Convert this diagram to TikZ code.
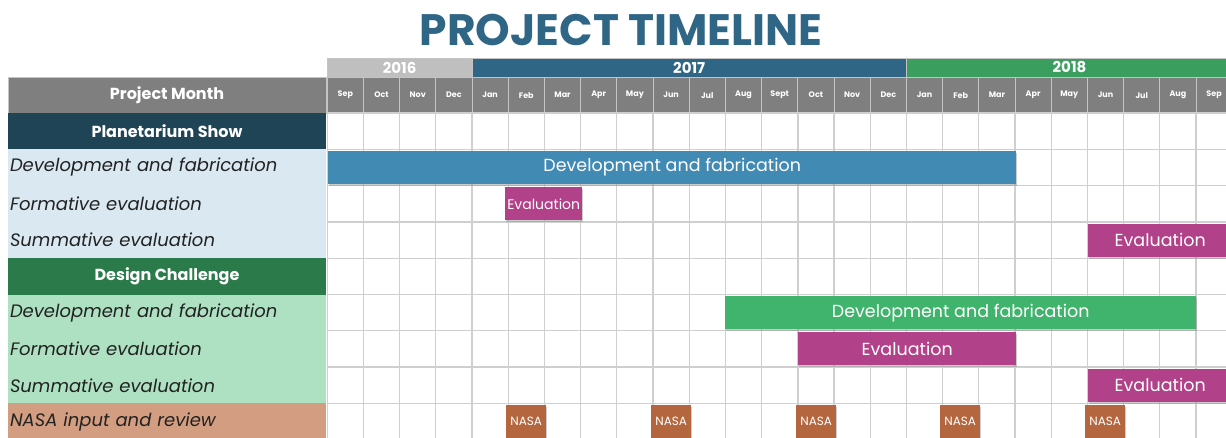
\documentclass[tikz,border=0pt]{standalone}
\usepackage{fontspec}
\setmainfont{Poppins}
\usetikzlibrary{shadows}

\definecolor{titleblue}{RGB}{47,101,133}
\definecolor{yrgrey}{RGB}{191,191,191}
\definecolor{yrgreen}{RGB}{58,159,94}
\definecolor{hdrgrey}{RGB}{127,127,127}
\definecolor{hdrline}{RGB}{196,196,196}
\definecolor{gridgrey}{RGB}{207,207,207}
\definecolor{planetnavy}{RGB}{31,68,86}
\definecolor{planetlight}{RGB}{218,232,241}
\definecolor{designgreen}{RGB}{43,122,73}
\definecolor{designlight}{RGB}{174,225,193}
\definecolor{nasarow}{RGB}{210,157,128}
\definecolor{labtext}{RGB}{34,34,34}
\definecolor{barblue}{RGB}{65,138,179}
\definecolor{barmag}{RGB}{177,65,136}
\definecolor{bargreen}{RGB}{64,180,108}
\definecolor{nasabox}{RGB}{180,102,62}

\begin{document}
\begin{tikzpicture}[x=1pt, y=-1pt, font=\fontsize{17.5}{20}\selectfont,
  yr/.style={draw=hdrline, line width=0.8pt, minimum height=19pt, inner sep=0pt, text=white, font=\fontsize{15}{16}\selectfont\bfseries},
  mon/.style={draw=hdrline, fill=hdrgrey, line width=1pt, minimum width=36.2pt, minimum height=36.3pt, inner sep=0pt, text=white, font=\fontsize{8}{9}\selectfont\bfseries},
  grp/.style={minimum width=318pt, minimum height=36.3pt, inner sep=0pt, text=white, font=\fontsize{16}{18}\selectfont\bfseries},
  lab/.style={minimum width=318pt, minimum height=36.3pt, inner xsep=2pt, inner ysep=0pt, text width=314pt, align=left, text=labtext, font=\fontsize{18}{20}\selectfont\itshape},
  gridline/.style={draw=gridgrey, line width=1.3pt},
  bar/.style={anchor=west, minimum height=33pt, inner sep=0pt, text=white, drop shadow={shadow xshift=1pt, shadow yshift=-2pt, opacity=0.4}},
  nasa/.style={bar, fill=nasabox, minimum width=40pt, font=\fontsize{12}{13}\selectfont}]
\useasboundingbox (0,0) rectangle (1226,437);
\clip (0,0) rectangle (1226,437);

\node[text=titleblue, font=\fontsize{44}{46}\selectfont\bfseries] (title) at (621,30) {PROJECT TIMELINE};

\node[yr, fill=yrgrey, minimum width=144.8pt] (y2016) at (399.6,67.5) {2016};
\node[yr, fill=titleblue, minimum width=434.4pt] (y2017) at (689.2,67.5) {2017};
\node[yr, fill=yrgreen, minimum width=325.8pt] (y2018) at (1069.5,67.5) {2018};

\node[grp, fill=hdrgrey, draw=hdrline, line width=1pt] (pm) at (167,95.15) {Project Month};
\foreach \m [count=\i from 0] in {Sep,Oct,Nov,Dec,Jan,Feb,Mar,Apr,May,Jun,Jul,Aug,Sept,Oct,Nov,Dec,Jan,Feb,Mar,Apr,May,Jun,Jul,Aug,Sep}
  \node[mon] (m\i) at ({345.3+36.2*\i},95.15) {\m};

\node[grp, fill=planetnavy] (ps) at (167,131.15) {Planetarium Show};
\node[lab, fill=planetlight] (psdev) at (167,167.45) {Development and fabrication};
\node[lab, fill=planetlight] (psform) at (167,203.75) {Formative evaluation};
\node[lab, fill=planetlight] (pssum) at (167,240.05) {Summative evaluation};
\node[grp, fill=designgreen] (dc) at (167,276.35) {Design Challenge};
\node[lab, fill=designlight] (dcdev) at (167,312.65) {Development and fabrication};
\node[lab, fill=designlight] (dcform) at (167,348.95) {Formative evaluation};
\node[lab, fill=designlight] (dcsum) at (167,385.25) {Summative evaluation};
\node[lab, fill=nasarow] (nasa) at (167,421.55) {NASA input and review};

\foreach \i in {0,...,25}
  \draw[gridline] ({327.2+36.2*\i},113) -- ++(0,330);
\draw[gridline, line width=2.2pt] (797.8,113) -- ++(0,330);
\foreach \r in {0,...,9}
  \draw[gridline] (327.2,{113+36.3*\r}) -- ++(910,0);

\node[bar, fill=barblue, minimum width=688pt] (psdevbar) at (328,167.45) {Development and fabrication};
\node[bar, fill=barmag, minimum width=77pt, font=\fontsize{14}{16}\selectfont] (psformbar) at (505,203.75) {Evaluation};
\node[bar, fill=barmag, minimum width=144pt] (pssumbar) at (1088,240.05) {Evaluation};
\node[bar, fill=bargreen, minimum width=471pt] (dcdevbar) at (725,312.65) {Development and fabrication};
\node[bar, fill=barmag, minimum width=218pt] (dcformbar) at (798,348.95) {Evaluation};
\node[bar, fill=barmag, minimum width=144pt] (dcsumbar) at (1088,385.25) {Evaluation};

\foreach \x [count=\k] in {506,651,796,940,1085}
  \node[nasa] (nasa\k) at (\x,421.55) {NASA};
\end{tikzpicture}
\end{document}
